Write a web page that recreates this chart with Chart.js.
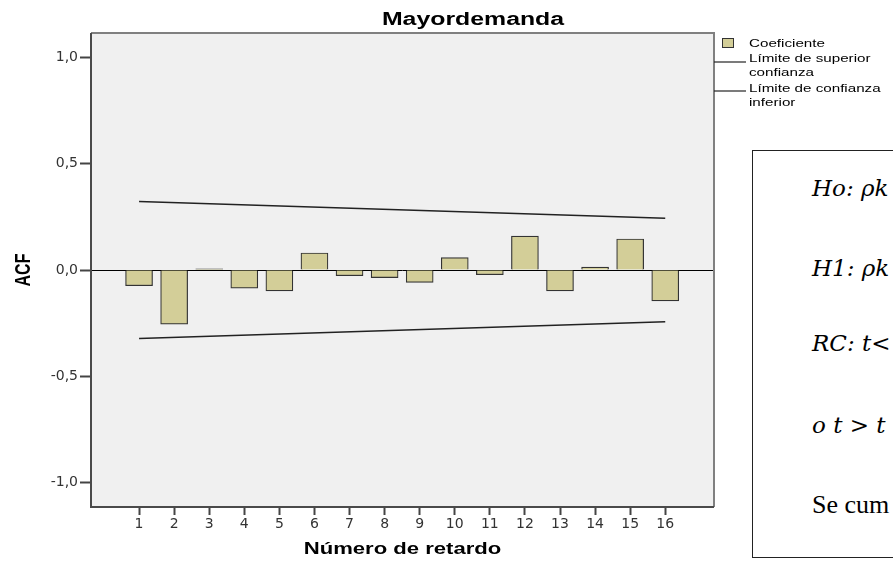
<!DOCTYPE html>
<html>
<head>
<meta charset="utf-8">
<script src="https://cdn.jsdelivr.net/npm/chart.js@4.4.1/dist/chart.umd.min.js"></script>
<style>
  html, body { margin: 0; padding: 0; background: #fff; overflow: hidden; width: 893px; height: 561px; }
  #wrap { position: relative; width: 893px; height: 561px; overflow: hidden; }
  canvas { position: absolute; left: 0; top: 0; }
  #note { position: absolute; left: 752px; top: 150px; width: 200px; height: 408px;
          border: 1px solid #222; background: #fff; box-sizing: border-box; color: #000; }
  #note div { position: absolute; left: 59px; white-space: nowrap; line-height: 1; }
  #note .m { font-family: "DejaVu Serif", "Liberation Serif", serif; font-style: italic; font-size: 23px; }
  #note .r { font-family: "Liberation Serif", serif; font-size: 26px; }
</style>
</head>
<body>
<div id="wrap">
  <canvas id="c" width="893" height="561"></canvas>
  <div id="note">
    <div class="m" style="top:26px">Ho: ρk</div>
    <div class="m" style="top:106px">H1: ρk</div>
    <div class="m" style="top:181px">RC: t&lt;</div>
    <div class="m" style="top:263px">o t &gt; t</div>
    <div class="r" style="top:341px">Se cum</div>
  </div>
</div>
<script>
// ---- data ----
const chartTitle = "Mayordemanda";
const lags = [1, 2, 3, 4, 5, 6, 7, 8, 9, 10, 11, 12, 13, 14, 15, 16];
const coeficiente = [-0.074, -0.255, 0.005, -0.085, -0.098, 0.080, -0.027, -0.036, -0.058, 0.058, -0.022, 0.159, -0.098, 0.014, 0.146, -0.145];
const confLags = [1, 16];
const upperLimit = [0.322, 0.243];
const lowerLimit = [-0.322, -0.243];
const yTicks = [-1.0, -0.5, 0.0, 0.5, 1.0];
const legendLabels = ["Coeficiente", ["Límite de superior", "confianza"], ["Límite de confianza", "inferior"]];
const xAxisTitle = "Número de retardo";
const yAxisTitle = "ACF";

// ---- layout constants ----
const PLOT = { left: 91, right: 714, top: 33, bottom: 507 };
const BAR_FILL = "#d3ce98";
const STRETCH = 1.38; // the original picture is stretched horizontally

function stretchedText(ctx, text, x, y, align) {
  const w = ctx.measureText(text).width * STRETCH;
  let x0 = x;
  if (align === "center") x0 = x - w / 2;
  else if (align === "right") x0 = x - w;
  ctx.save();
  ctx.translate(x0, y);
  ctx.scale(STRETCH, 1);
  ctx.textAlign = "left";
  ctx.fillText(text, 0, 0);
  ctx.restore();
}

const bgPlugin = {
  id: "bgPlugin",
  beforeDraw(chart) {
    const { ctx, chartArea: a } = chart;
    ctx.save();
    ctx.fillStyle = "#f0f0f0";
    ctx.fillRect(a.left, a.top, a.right - a.left, a.bottom - a.top);
    ctx.restore();
  },
  afterDraw(chart) {
    const { ctx, chartArea: a } = chart;
    ctx.save();
    // frame
    ctx.strokeStyle = "#808080";
    ctx.lineWidth = 2;
    ctx.beginPath();
    ctx.moveTo(a.left, a.top); ctx.lineTo(a.right, a.top); ctx.lineTo(a.right, a.bottom);
    ctx.stroke();
    ctx.strokeStyle = "#4a4a4a";
    ctx.beginPath();
    ctx.moveTo(a.left, a.top); ctx.lineTo(a.left, a.bottom); ctx.lineTo(a.right, a.bottom);
    ctx.stroke();

    // title
    ctx.fillStyle = "#000";
    ctx.textBaseline = "alphabetic";
    ctx.font = "bold 18px 'Liberation Sans', Arial, sans-serif";
    stretchedText(ctx, chartTitle, 473, 25, "center");

    // x axis title
    ctx.font = "bold 16px 'Liberation Sans', Arial, sans-serif";
    stretchedText(ctx, xAxisTitle, (a.left + a.right) / 2, 554, "center");

    // y axis title (rotated, stretched across x)
    ctx.save();
    ctx.translate(24, (a.top + a.bottom) / 2);
    ctx.rotate(-Math.PI / 2);
    ctx.scale(1, STRETCH);
    ctx.textAlign = "center";
    ctx.textBaseline = "middle";
    ctx.fillText(yAxisTitle, 0, 0);
    ctx.restore();

    // legend
    ctx.font = "11px 'Liberation Sans', Arial, sans-serif";
    ctx.fillStyle = BAR_FILL;
    ctx.fillRect(722, 38, 11, 9);
    ctx.strokeStyle = "#333";
    ctx.lineWidth = 1;
    ctx.strokeRect(722.5, 38.5, 11, 9);
    ctx.fillStyle = "#000";
    stretchedText(ctx, legendLabels[0], 749, 47, "left");
    const rowBase = [[62, 76], [92, 106]];
    const lineY = [62, 91];
    for (let i = 0; i < 2; i++) {
      ctx.fillStyle = "#000";
      stretchedText(ctx, legendLabels[i + 1][0], 749, rowBase[i][0], "left");
      stretchedText(ctx, legendLabels[i + 1][1], 749, rowBase[i][1], "left");
      ctx.strokeStyle = "#222";
      ctx.lineWidth = 1.2;
      ctx.beginPath();
      ctx.moveTo(a.right, lineY[i]); ctx.lineTo(746, lineY[i]);
      ctx.stroke();
    }
    ctx.restore();
  }
};

const fmt = v => v.toFixed(1).replace(".", ",");
const tickFont = { family: "'DejaVu Sans', Verdana, sans-serif", size: 14 };

new Chart(document.getElementById("c"), {
  type: "bar",
  data: {
    datasets: [
      {
        type: "bar",
        label: "Coeficiente",
        data: lags.map((l, i) => ({ x: l, y: coeficiente[i] })),
        backgroundColor: BAR_FILL,
        borderColor: "#333",
        borderWidth: 1.2,
        barThickness: 27,
        order: 2
      },
      {
        type: "line",
        label: "Límite de superior confianza",
        data: confLags.map((l, i) => ({ x: l, y: upperLimit[i] })),
        borderColor: "#222",
        borderWidth: 1.5,
        pointRadius: 0,
        fill: false,
        order: 1
      },
      {
        type: "line",
        label: "Límite de confianza inferior",
        data: confLags.map((l, i) => ({ x: l, y: lowerLimit[i] })),
        borderColor: "#222",
        borderWidth: 1.5,
        pointRadius: 0,
        fill: false,
        order: 1
      }
    ]
  },
  options: {
    responsive: false,
    animation: false,
    devicePixelRatio: 1,
    layout: { padding: { top: PLOT.top, right: 893 - PLOT.right, left: 0, bottom: 0 } },
    plugins: { legend: { display: false }, title: { display: false }, tooltip: { enabled: false } },
    scales: {
      x: {
        type: "linear",
        offset: false,
        min: -0.37,
        max: 17.39,
        afterBuildTicks: s => { s.ticks = lags.map(v => ({ value: v })); },
        afterFit: s => { s.height = 561 - PLOT.bottom; },
        border: { display: false },
        grid: { offset: false, drawOnChartArea: false, drawTicks: true, tickLength: 8, tickColor: "#444", tickWidth: 2 },
        ticks: { padding: 1, color: "#333", font: tickFont, callback: v => String(v), maxRotation: 0, autoSkip: false }
      },
      y: {
        min: -1.115,
        max: 1.115,
        afterBuildTicks: s => { s.ticks = yTicks.map(v => ({ value: v })); },
        afterFit: s => { s.width = PLOT.left; },
        border: { display: false },
        grid: {
          drawOnChartArea: true,
          color: c => (c.tick && c.tick.value === 0 ? "#000" : "transparent"),
          lineWidth: 1,
          tickLength: 11, tickColor: "#444", tickWidth: 2
        },
        ticks: { padding: 2, color: "#333", font: tickFont, callback: v => fmt(v) }
      }
    }
  },
  plugins: [bgPlugin]
});
</script>
</body>
</html>
